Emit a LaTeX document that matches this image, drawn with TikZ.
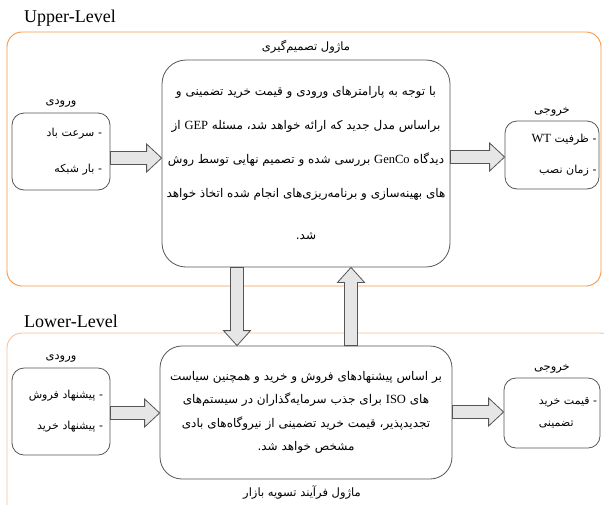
\documentclass[tikz,border=0pt]{standalone}
\usepackage{fontspec}
\setmainfont{Liberation Serif}
\newfontfamily\farsi[Script=Arabic]{DejaVu Sans}
\TeXXeTstate=1
\usetikzlibrary{positioning,calc}

\definecolor{upperframe}{RGB}{247,150,70}
\definecolor{lowerframe}{RGB}{250,192,150}
\definecolor{boxline}{RGB}{85,85,85}
\definecolor{arrowfill}{RGB}{230,230,230}

\newcommand{\fatext}[1]{{\farsi\beginR #1\endR}}
\newcommand{\lat}[1]{{\rmfamily\fontsize{12.5}{12.5}\selectfont #1}}

% block arrows between named boxes
\newcommand{\arrowright}[3]{%
  \draw[blockarrow] let \p1=(#1.east), \p2=(#2.west), \p3=(0,#3) in
    (\x1,\y3+6.5) -- (\x2-15,\y3+6.5) -- (\x2-15,\y3+14) -- (\x2,\y3)
    -- (\x2-15,\y3-14) -- (\x2-15,\y3-6.5) -- (\x1,\y3-6.5) -- cycle;}
\newcommand{\arrowdown}[3]{%
  \draw[blockarrow] let \p1=(#1.south), \p2=(#2.north), \p3=(#3,0) in
    (\x3-6.5,\y1) -- (\x3-6.5,\y2+15) -- (\x3-13.5,\y2+15) -- (\x3,\y2)
    -- (\x3+13.5,\y2+15) -- (\x3+6.5,\y2+15) -- (\x3+6.5,\y1) -- cycle;}
\newcommand{\arrowup}[3]{%
  \draw[blockarrow] let \p1=(#1.north), \p2=(#2.south), \p3=(#3,0) in
    (\x3-6.5,\y1) -- (\x3-6.5,\y2-15) -- (\x3-13.5,\y2-15) -- (\x3,\y2)
    -- (\x3+13.5,\y2-15) -- (\x3+6.5,\y2-15) -- (\x3+6.5,\y1) -- cycle;}

\tikzset{
  levelframe/.style={line width=0.9pt, rounded corners=15pt},
  box/.style={draw=boxline, line width=0.8pt, rounded corners=12pt, inner sep=0pt},
  bigbox/.style={box, rounded corners=24pt, align=center},
  title/.style={font=\farsi\fontsize{11.5}{11.5}\selectfont, inner sep=1pt},
  levelname/.style={font=\fontsize{18}{18}\selectfont, anchor=base west, inner sep=0pt},
  blockarrow/.style={draw=boxline, fill=arrowfill, line width=0.8pt, line join=miter}
}

\begin{document}
\begin{tikzpicture}[x=1pt,y=-1pt]
\clip (0,0) rectangle (604,504);

% level frames
\draw[levelframe, upperframe] (7,32) rectangle (601,286);
\draw[levelframe, lowerframe] (7,333) rectangle (615,530);

\node[levelname] (upname) at (24,22) {Upper-Level};
\node[levelname] (lowname) at (24,327) {Lower-Level};

% upper level
\node[bigbox, minimum width=288pt, minimum height=207pt,
      font=\farsi\fontsize{12}{34}\selectfont] (decide) at (306,163.5)
  {\fatext{با توجه به پارامترهای ورودی و قیمت خرید تضمینی و}\\
   \fatext{براساس مدل جدید که ارائه خواهد شد، مسئله \lat{GEP} از}\\
   \fatext{دیدگاه \lat{GenCo} بررسی شده و تصمیم نهایی توسط روش}\\
   \fatext{های بهینه‌سازی و برنامه‌ریزی‌های انجام شده اتخاذ خواهد}\\[8pt]
   \fatext{شد.}};
\node[title] (decidename) at (306,47) {\fatext{ماژول تصمیم‌گیری}};

\node[box, minimum width=98pt, minimum height=77pt, text width=82pt, align=right,
      font=\farsi\fontsize{11}{36}\selectfont] (inup) at (61,151.5)
  {\fatext{- سرعت باد}\\ \fatext{- بار شبکه}};
\node[title, above=4pt of inup] (inupname) {\fatext{ورودی}};

\node[box, minimum width=94pt, minimum height=68pt, text width=89pt, align=right,
      font=\farsi\fontsize{11}{31}\selectfont] (outup) at (552,155)
  {\fatext{- ظرفیت \lat{WT}}\\ \fatext{- زمان نصب}};
\node[title, above=3pt of outup] (outupname) {\fatext{خروجی}};

% lower level
\node[bigbox, rounded corners=22pt, minimum width=292pt, minimum height=133pt,
      font=\farsi\fontsize{12}{23.5}\selectfont] (settle) at (306,412.5)
  {\fatext{بر اساس پیشنهادهای فروش و خرید و همچنین سیاست}\\
   \fatext{های \lat{ISO} برای جذب سرمایه‌گذاران در سیستم‌های}\\
   \fatext{تجدیدپذیر، قیمت خرید تضمینی از نیروگاه‌های بادی}\\
   \fatext{مشخص خواهد شد.}};
\node[title] (settlename) at (302,492) {\fatext{ماژول فرآیند تسویه بازار}};

\node[box, minimum width=98pt, minimum height=87pt, text width=84pt, align=right,
      font=\farsi\fontsize{11}{31}\selectfont] (inlow) at (61,411.5)
  {\fatext{- پیشنهاد فروش}\\ \fatext{- پیشنهاد خرید}};
\node[title, above=4pt of inlow] (inlowname) {\fatext{ورودی}};

\node[box, minimum width=96pt, minimum height=70pt] (outlow) at (552,413) {};
\node[anchor=east, inner sep=0pt, align=left,
      font=\farsi\fontsize{11}{22}\selectfont] (outlowtext) at ([xshift=-3pt]outlow.east)
  {\fatext{- قیمت خرید}\\ \fatext{تضمینی}};
\node[title, above=3pt of outlow] (outlowname) {\fatext{خروجی}};

% arrows
\arrowright{inup}{decide}{158}
\arrowright{decide}{outup}{157}
\arrowright{inlow}{settle}{413}
\arrowright{settle}{outlow}{412}
\arrowdown{decide}{settle}{237}
\arrowup{settle}{decide}{351}
\end{tikzpicture}
\end{document}
